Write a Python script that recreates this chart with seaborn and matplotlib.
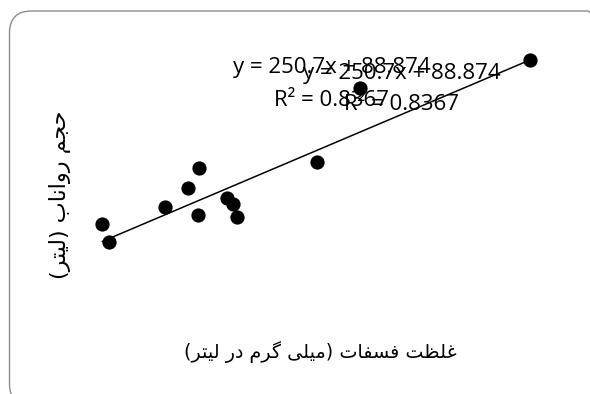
import matplotlib
matplotlib.use("Agg")
import matplotlib.pyplot as plt
import seaborn as sns
import numpy as np
import pandas as pd
from matplotlib.patches import FancyBboxPatch
from matplotlib.transforms import IdentityTransform

# values
phosphate = [0.037, 0.048, 0.142, 0.180, 0.198, 0.197, 0.245, 0.255, 0.262, 0.395, 0.467, 0.750]
runoff = [115.4, 97.6, 132.1, 150.8, 170.5, 124.2, 141.0, 135.1, 122.3, 176.4, 249.3, 276.9]
slope = 250.7
intercept = 88.874
r_squared = 0.8367
x_label = "غلظت فسفات (میلی گرم در لیتر)"
y_label = "حجم رواناب (لیتر)"

# arabic/persian letter forms: isolated, final, initial, medial (None -> does not join left)
FORMS = {
    "ا": (0xFE8D, 0xFE8E, None, None),
    "ب": (0xFE8F, 0xFE90, 0xFE91, 0xFE92),
    "ت": (0xFE95, 0xFE96, 0xFE97, 0xFE98),
    "ج": (0xFE9D, 0xFE9E, 0xFE9F, 0xFEA0),
    "ح": (0xFEA1, 0xFEA2, 0xFEA3, 0xFEA4),
    "د": (0xFEA9, 0xFEAA, None, None),
    "ر": (0xFEAD, 0xFEAE, None, None),
    "س": (0xFEB1, 0xFEB2, 0xFEB3, 0xFEB4),
    "ظ": (0xFEC5, 0xFEC6, 0xFEC7, 0xFEC8),
    "غ": (0xFECD, 0xFECE, 0xFECF, 0xFED0),
    "ف": (0xFED1, 0xFED2, 0xFED3, 0xFED4),
    "ل": (0xFEDD, 0xFEDE, 0xFEDF, 0xFEE0),
    "م": (0xFEE1, 0xFEE2, 0xFEE3, 0xFEE4),
    "ن": (0xFEE5, 0xFEE6, 0xFEE7, 0xFEE8),
    "و": (0xFEED, 0xFEEE, None, None),
    "ی": (0xFBFC, 0xFBFD, 0xFBFE, 0xFBFF),
    "گ": (0xFB92, 0xFB93, 0xFB94, 0xFB95),
}


def shape_rtl(text):
    # matplotlib has no text shaping, so pick the joined forms and reverse by hand
    out = []
    for i, ch in enumerate(text):
        if ch not in FORMS:
            out.append(ch)
            continue
        prev = text[i - 1] if i > 0 else ""
        nxt = text[i + 1] if i + 1 < len(text) else ""
        iso, fin, ini, med = FORMS[ch]
        join_prev = prev in FORMS and FORMS[prev][2] is not None
        join_next = nxt in FORMS and ini is not None
        if join_prev and join_next:
            out.append(chr(med))
        elif join_prev:
            out.append(chr(fin))
        elif join_next:
            out.append(chr(ini))
        else:
            out.append(chr(iso))
    visual = "".join(out)[::-1]
    return visual.translate(str.maketrans("()", ")("))


df = pd.DataFrame({"x": phosphate, "y": runoff})
xs = np.array([min(phosphate), max(phosphate)])
trend = pd.DataFrame({"x": xs, "y": slope * xs + intercept})

sns.set_style("white")
plt.rcParams["font.family"] = ["DejaVu Sans"]
plt.rcParams["text.color"] = "black"
plt.rcParams["axes.labelcolor"] = "black"

W, H = 590, 394
fig = plt.figure(figsize=(W / 100, H / 100), dpi=100)
ax = fig.add_axes([80 / W, (H - 341.1) / H, 480 / W, 304.6 / H])

sns.lineplot(data=trend, x="x", y="y", ax=ax, color="black", linewidth=1.1)
sns.scatterplot(data=df, x="x", y="y", ax=ax, color="black", s=105,
                edgecolor="black", linewidth=0, zorder=3)

ax.set_xlim(0, 0.8)
ax.set_ylim(0, 300)
ax.set_xticks([])
ax.set_yticks([])
sns.despine(ax=ax, left=True, bottom=True)

ax.set_xlabel(shape_rtl(x_label), fontsize=13.8, va="center")
ax.set_ylabel(shape_rtl(y_label), fontsize=16, va="center")
ax.xaxis.set_label_coords(0.5, -0.036)
ax.yaxis.set_label_coords(-0.042, 0.48)

# trendline label appears twice, slightly shifted
eq = f"y = {slope}x + {intercept}"
r2 = f"R² = {r_squared}"
for cx, dy in [(332, 0), (402, 5)]:
    fig.text(cx / W, 1 - (68 + dy) / H, eq, ha="center", va="center",
             fontsize=16, family="Open Sans")
    fig.text(cx / W, 1 - (100 + dy) / H, r2, ha="center", va="center",
             fontsize=16, family="Open Sans")

# rounded chart border, running off the right and bottom edges
border = FancyBboxPatch((9.5, -12), 600, 394 - 11 + 12, boxstyle="round,pad=0,rounding_size=22",
                        transform=IdentityTransform(), facecolor="none",
                        edgecolor="#8c8c8c", linewidth=1.0)
fig.add_artist(border)

fig.savefig("out.png", dpi=100)
